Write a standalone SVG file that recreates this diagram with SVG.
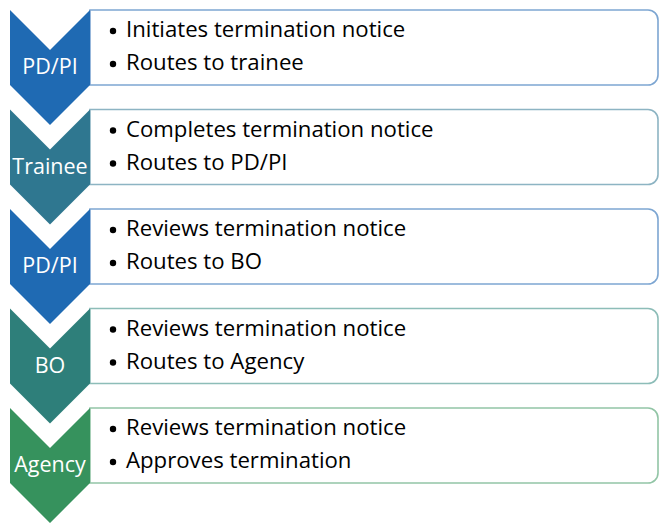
<svg xmlns="http://www.w3.org/2000/svg" width="667" height="530" viewBox="0 0 667 530">
<style>
.lbl{font-family:"Open Sans","Liberation Sans",sans-serif;font-size:21.5px;fill:#fff;text-anchor:middle}
.box{fill:#fff;stroke-width:1.6}
.item{font-family:"Open Sans","Liberation Sans",sans-serif;font-size:22.2px;fill:#000;text-anchor:start}
.dot{fill:#000}
</style>
<rect width="667" height="530" fill="#fff"/>
<g id="step1">
<path class="box" stroke="#7DA6D2" d="M90,10 H648 A10,10 0 0 1 658,20 V75 A10,10 0 0 1 648,85 H90 Z"/>
<polygon fill="#1F6AB3" points="10,10 50,50 90,10 90,85 50,125 10,85"/>
<text class="lbl" x="50" y="74">PD/PI</text>
<circle class="dot" cx="113" cy="31" r="3.2"/><text class="item" x="126" y="37">Initiates termination notice</text>
<circle class="dot" cx="113" cy="64" r="3.2"/><text class="item" x="126" y="70">Routes to trainee</text>
</g>
<g id="step2">
<path class="box" stroke="#8DB4C3" d="M90,109.5 H648 A10,10 0 0 1 658,119.5 V174.5 A10,10 0 0 1 648,184.5 H90 Z"/>
<polygon fill="#2F7790" points="10,109.5 50,149.5 90,109.5 90,184.5 50,224.5 10,184.5"/>
<text class="lbl" x="50" y="173.5">Trainee</text>
<circle class="dot" cx="113" cy="130.5" r="3.2"/><text class="item" x="126" y="136.5">Completes termination notice</text>
<circle class="dot" cx="113" cy="163.5" r="3.2"/><text class="item" x="126" y="169.5">Routes to PD/PI</text>
</g>
<g id="step3">
<path class="box" stroke="#7DA6D2" d="M90,209 H648 A10,10 0 0 1 658,219 V274 A10,10 0 0 1 648,284 H90 Z"/>
<polygon fill="#1F6AB3" points="10,209 50,249 90,209 90,284 50,324 10,284"/>
<text class="lbl" x="50" y="273">PD/PI</text>
<circle class="dot" cx="113" cy="230" r="3.2"/><text class="item" x="126" y="236">Reviews termination notice</text>
<circle class="dot" cx="113" cy="263" r="3.2"/><text class="item" x="126" y="269">Routes to BO</text>
</g>
<g id="step4">
<path class="box" stroke="#8DBDB8" d="M90,308.5 H648 A10,10 0 0 1 658,318.5 V373.5 A10,10 0 0 1 648,383.5 H90 Z"/>
<polygon fill="#2E7F7A" points="10,308.5 50,348.5 90,308.5 90,383.5 50,423.5 10,383.5"/>
<text class="lbl" x="50" y="372.5">BO</text>
<circle class="dot" cx="113" cy="329.5" r="3.2"/><text class="item" x="126" y="335.5">Reviews termination notice</text>
<circle class="dot" cx="113" cy="362.5" r="3.2"/><text class="item" x="126" y="368.5">Routes to Agency</text>
</g>
<g id="step5">
<path class="box" stroke="#92C5A6" d="M90,408 H648 A10,10 0 0 1 658,418 V473 A10,10 0 0 1 648,483 H90 Z"/>
<polygon fill="#36925D" points="10,408 50,448 90,408 90,483 50,523 10,483"/>
<text class="lbl" x="50" y="472">Agency</text>
<circle class="dot" cx="113" cy="429" r="3.2"/><text class="item" x="126" y="435">Reviews termination notice</text>
<circle class="dot" cx="113" cy="462" r="3.2"/><text class="item" x="126" y="468">Approves termination</text>
</g>
<g id="connectors"/>
</svg>
